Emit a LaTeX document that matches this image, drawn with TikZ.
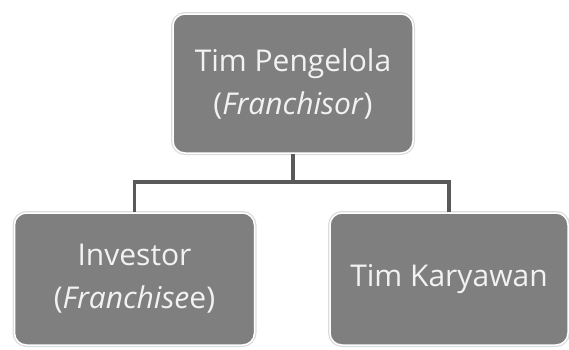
\documentclass[tikz,border=0pt]{standalone}
\usepackage{fontspec}
\setmainfont{Open Sans}
\usepackage{xcolor}
\usepackage{tikz}
\usetikzlibrary{positioning, calc}
\definecolor{boxfill}{HTML}{7F7F7F}
\definecolor{boxtext}{HTML}{F2F2F2}
\definecolor{boxrim}{HTML}{DCDCDC}
\definecolor{linkgray}{HTML}{595959}
\tikzset{
  orgbox/.style={preaction={draw=boxrim, line width=4pt, rounded corners=12pt},
    draw=white, line width=1.5pt, fill=boxfill, rounded corners=12pt, align=center,
    font=\fontsize{30}{43}\selectfont, text=boxtext, inner sep=0pt},
  link/.style={draw=linkgray, line width=3.5pt}
}
\begin{document}
\begin{tikzpicture}[x=1pt, y=-1pt]
\useasboundingbox (0,0) rectangle (569,349);
\node[orgbox, minimum width=240pt, minimum height=139pt] (pengelola) at (293,83.5) {Tim Pengelola\\(\textit{Franchisor})};
\node[orgbox, minimum width=240pt, minimum height=132pt] (investor) at (134.5,279) {Investor\\(\textit{Franchise}e)};
\node[orgbox, minimum width=238pt, minimum height=132pt] (karyawan) at (449,279) {Tim Karyawan};
\coordinate (bus) at (293,182);
\draw[link] (pengelola.south) -- (bus);
\draw[link] (bus) -| (investor.north);
\draw[link] (bus) -| (karyawan.north);
\end{tikzpicture}
\end{document}
